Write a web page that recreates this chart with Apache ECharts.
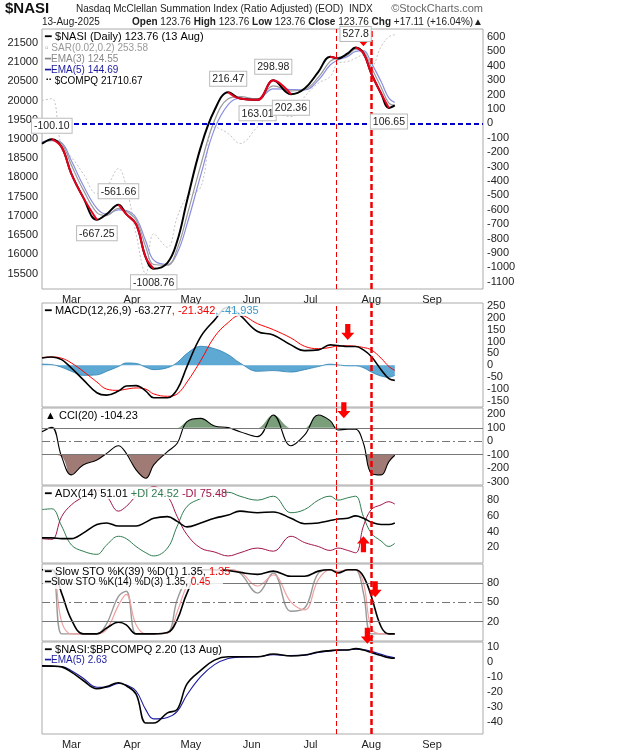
<!DOCTYPE html>
<html><head><meta charset="utf-8">
<script src="https://cdn.jsdelivr.net/npm/echarts@6/dist/echarts.min.js"></script>
<style>html,body{margin:0;padding:0;background:#fff}#c{width:620px;height:750px}</style>
</head><body><div id="c"></div>
<script>
const dates = ['2025-02-14','2025-02-19','2025-02-24','2025-03-01','2025-03-07','2025-03-14','2025-03-19','2025-03-25','2025-03-29','2025-04-03','2025-04-08','2025-04-12','2025-04-19','2025-04-24','2025-04-29','2025-05-06','2025-05-13','2025-05-20','2025-05-26','2025-06-04','2025-06-12','2025-06-21','2025-06-28','2025-07-05','2025-07-11','2025-07-15','2025-07-20','2025-07-24','2025-07-28','2025-08-01','2025-08-06','2025-08-10','2025-08-13'];
const nasi = [-142,-110,-165,-351,-514,-670,-630,-565,-630,-700,-933,-1009,-968,-817,-537,-165,91,216,172,163,299,202,242,358,463,451,486,527,486,346,207,107,124];
const ema3 = [-135,-118,-140,-290,-460,-620,-640,-590,-610,-670,-860,-980,-985,-870,-640,-290,20,170,185,168,260,225,235,320,430,455,475,515,500,390,250,140,125];
const ema5 = [-128,-120,-135,-260,-430,-590,-630,-600,-605,-655,-820,-950,-980,-900,-700,-360,-40,130,175,170,240,235,232,300,405,440,465,500,505,420,290,175,145];
const compq = [20000,20050,18800,18530,18100,17580,17750,18230,17750,16535,15490,16535,16185,16970,17490,17750,19316,19140,18883,19316,19665,19580,20100,20450,20620,20970,21013,21100,21190,20880,21400,21660,21710];
const nasiLabels = [[1,'-100.10','top'],[5,'-667.25','bottom'],[7,'-561.66','top'],[11,'-1008.76','bottom'],[17,'216.47','top'],[19,'163.01','bottom'],[20,'298.98','top'],[21,'202.36','bottom'],[27,'527.8','top'],[31,'106.65','bottom']];
const macd = [31,35,24,-11,-60,-115,-125,-108,-87,-85,-108,-136,-136,-101,-4,121,190,245,211,142,128,86,62,65,86,83,79,79,65,37,-18,-56,-63];
const signal = [33,35,30,10,-25,-70,-100,-105,-100,-95,-100,-120,-130,-120,-70,20,120,180,210,175,150,115,80,70,75,82,82,80,75,65,30,-5,-21];
const hist = [5,3,-8,-25,-42,-40,-25,-5,10,8,-8,-18,-10,12,50,80,70,45,10,-25,-22,-28,-18,-5,5,2,-2,-2,-10,-28,-45,-50,-42];
const cci = [71,103,-114,-250,-176,-139,-90,-33,-90,-213,-275,-176,-77,-15,146,170,113,101,71,34,195,-33,47,195,153,84,89,89,-15,-238,-250,-151,-104];
const adx = [32,32,31,31,38,49,51,47,47,47,52,57,59,53,46,51,57,61,66,64,65,57,50,51,54,56,57,60,57,52,49,49,51];
const pdi = [68,69,47,23,15,11,23,34,31,21,13,9,19,47,72,82,89,90,85,80,85,64,68,80,85,80,83,85,59,38,28,21,25];
const mdi = [31,30,59,74,84,93,85,66,72,85,93,97,85,59,36,19,14,9,13,19,15,34,26,21,16,19,16,13,47,68,74,78,75];
const sto39 = [100,100,64,23,1,1,10,19,15,1,1,1,3,23,64,100,100,99,96,93,98,90,90,98,100,95,100,100,90,59,12,1,1];
const sto14 = [100,100,1,1,1,1,17,59,67,1,1,1,3,54,85,100,100,100,95,64,95,36,41,95,100,97,100,100,64,1,1,1,1];
const sto14d = [100,100,20,1,1,1,8,45,62,15,1,1,2,35,75,100,100,100,97,75,92,50,38,85,100,98,100,100,80,10,1,1,1];
const ratio = [-2.8,-3,-3.5,-7,-12.5,-18,-16.6,-14,-16,-21.5,-40.7,-40.7,-34,-31.7,-14.8,-5.8,1,3.2,3.2,3.2,5,3.7,4.4,6.4,7.3,7.7,7.7,8.6,7.7,6,4,2.6,2.2];
const ratioEma = [-3,-3,-3.2,-6,-11,-17,-17,-14.5,-15.5,-19.5,-32,-38,-37,-33,-22,-10,-2,2,3,3.2,4.5,4,4.3,6,7,7.6,7.7,8.3,8,6.8,4.8,3.3,2.6];
const monthNames = ['Jan','Feb','Mar','Apr','May','Jun','Jul','Aug','Sep','Oct','Nov','Dec'];

const pair = a => a.map((v,i)=>[dates[i],v]);
const F = 'Arial, "Liberation Sans", sans-serif';
const grids = [[29,289],[303,407],[408,485],[486,563],[564,641],[642,735]];
const grid = grids.map(g=>({left:42,right:137,top:g[0],height:g[1]-g[0],show:true,borderColor:'#aaa',borderWidth:1,backgroundColor:'#fff'}));
const xAxis = grids.map((g,i)=>({type:'time',gridIndex:i,min:'2025-02-14',max:'2025-09-27',splitNumber:8,
  axisLine:{show:false},axisTick:{show:false},splitLine:{show:false},
  axisLabel:{show:(i===0||i===5),fontFamily:F,fontSize:11,color:'#222',margin:5,hideOverlap:false,
    formatter:v=>{const d=new Date(v);return d.getUTCDate()===1||d.getDate()===1?monthNames[d.getMonth()]:'';}}}));
function yax(i,min,max,interval,show,pos,extra){return Object.assign({type:'value',gridIndex:i,min,max,interval,position:pos||'right',scale:true,
  axisLine:{show:false},axisTick:{show:false},splitLine:{show:false},
  axisLabel:{fontFamily:F,fontSize:11,color:'#222',margin:4,showMinLabel:true,showMaxLabel:false,formatter:v=>show(v)?String(Math.round(v)):''}},extra||{});}
const yAxis = [
  yax(0,-1150,655,50,v=>Math.round(v)%100===0&&v>=-1100&&v<=600),
  yax(0,15100,21860,100,v=>Math.round(v)%500===0&&v>=15500,'left'),
  yax(1,-175,262,25,v=>Math.round(v)%50===0),
  yax(2,-325,247,25,v=>Math.round(v)%100===0),
  yax(3,0,98,10,v=>[20,40,60,80].includes(Math.round(v))),
  yax(4,-10,109,10,v=>[20,50,80].includes(Math.round(v))),
  yax(5,-48,13,2,v=>Math.round(v)%10===0)
];
function vlines(){return {silent:true,symbol:'none',label:{show:false},data:[
  {xAxis:'2025-07-14',lineStyle:{color:'#e00',type:[5,3],width:1}},
  {xAxis:'2025-08-01',lineStyle:{color:'#e00',type:[6,3],width:2.5}}]};}
function hl(vals){return vals.map(v=>({yAxis:v[0],lineStyle:{color:'#777',width:1,type:v[1]}}));}
const arrow = 'path://M3,0 L7,0 L7,7 L10,7 L5,13 L0,7 L3,7 Z';
function arrowPt(d,v,rot){return {coord:[d,v],symbol:arrow,symbolSize:[13,16],symbolRotate:rot||0,itemStyle:{color:'#f00'},label:{show:false}};}
const L = (name,xi,yi,data,color,w,extra)=>Object.assign({name,type:'line',xAxisIndex:xi,yAxisIndex:yi,data:pair(data),smooth:0.4,symbol:'none',lineStyle:{color,width:w},itemStyle:{color},z:3},extra||{});
const redSeg = nasi.map((v,i)=>((i<nasi.length-1&&nasi[i+1]<v)||(i>0&&nasi[i-1]>v))?v:null);

const series = [
  L('compq',0,1,compq,'#bbb',1,{lineStyle:{color:'#c4c4c4',width:1,type:[2,2]},z:1}),
  L('ema5',0,0,ema5,'#8a8ee0',1.2,{z:2}),
  L('ema3',0,0,ema3,'#999',1.2,{z:2}),
  L('nasi',0,0,nasi,'#000',2,{markLine:{silent:true,symbol:'none',label:{show:false},data:[{yAxis:0,lineStyle:{color:'#00c',type:[5,3],width:2}},
      {xAxis:'2025-07-14',lineStyle:{color:'#e00',type:[5,3],width:1}},{xAxis:'2025-08-01',lineStyle:{color:'#e00',type:[6,3],width:2.5}}]},
    markPoint:{data:nasiLabels.map(l=>({coord:[dates[l[0]],nasi[l[0]]],symbol:'circle',symbolSize:1,itemStyle:{color:'transparent'},
      label:{show:true,formatter:l[1],position:l[2],distance:6,fontFamily:F,fontSize:10.5,color:'#222',backgroundColor:'#fff',borderColor:'#bbb',borderWidth:1,padding:[2,2,1,2]}})).concat([arrowPt('2025-07-28',590)])}}),
  L('nasiRed',0,0,redSeg,'#e8001c',2,{connectNulls:false,z:4}),
  {type:'line',xAxisIndex:1,yAxisIndex:2,data:pair(hist),smooth:0.4,symbol:'none',lineStyle:{color:'#2a7fb0',width:0.8},areaStyle:{color:'#4c9fcf',opacity:0.9},z:1,
    markLine:vlines(),markPoint:{data:[arrowPt('2025-07-20',140)]}},
  L('signal',1,2,signal,'#f00',1),
  L('macd',1,2,macd,'#000',1.6),
  {type:'line',xAxisIndex:2,yAxisIndex:3,data:pair(cci.map(v=>Math.max(v,100))),smooth:0.4,symbol:'none',lineStyle:{width:0},areaStyle:{color:'#7a9e7a',origin:100,opacity:1},z:1},
  {type:'line',xAxisIndex:2,yAxisIndex:3,data:pair(cci.map(v=>Math.min(v,-100))),smooth:0.4,symbol:'none',lineStyle:{width:0},areaStyle:{color:'#a07a74',origin:-100,opacity:1},z:1},
  L('cci',2,3,cci,'#000',1.1,{markLine:{silent:true,symbol:'none',label:{show:false},data:hl([[100,'solid'],[0,[8,3,2,3]],[-100,'solid']]).concat(vlines().data)},markPoint:{data:[arrowPt('2025-07-18',230)]}}),
  L('pdi',3,4,pdi,'#2e7d4f',1,{}),
  L('mdi',3,4,mdi,'#a0144a',1,{}),
  L('adx',3,4,adx,'#000',1.6,{markLine:vlines(),markPoint:{data:[arrowPt('2025-07-28',24,180)]}}),
  L('sto14',4,5,sto14,'#999',1.4,{}),
  L('sto14d',4,5,sto14d,'#f3a0a0',1.2,{}),
  L('sto39',4,5,sto39,'#000',1.6,{markLine:{silent:true,symbol:'none',label:{show:false},data:hl([[80,'solid'],[50,[8,3,2,3]],[20,'solid']]).concat(vlines().data)},
    markPoint:{data:[arrowPt('2025-08-03',70),arrowPt('2025-07-30',-2)]}}),
  L('ratioEma',5,6,ratioEma,'#1a1aa0',1.1,{}),
  L('ratio',5,6,ratio,'#000',1.6,{markLine:vlines()})
];
const t=(x,y,text,style)=>({type:'text',left:x,top:y,z:100,style:Object.assign({text,font:'11px '+F,fill:'#222'},style||{})});
const bg=(x,y,w,h)=>({type:'rect',left:x,top:y,z:99,shape:{width:w,height:h},style:{fill:'rgba(255,255,255,0.85)'}});
const graphic=[
  t(5,1,'$NASI',{font:'bold 15px '+F,fill:'#111'}),
  t(76,4,'Nasdaq McClellan Summation Index (Ratio Adjusted) (EOD)  INDX',{font:'10px '+F}),
  {type:'text',right:137,top:3,z:100,style:{text:'©StockCharts.com',font:'11px '+F,fill:'#666'}},
  t(42,17,'13-Aug-2025',{font:'10px '+F}),
  {type:'text',right:137,top:17,z:100,style:{text:'{b|Open} 123.76 {b|High} 123.76 {b|Low} 123.76 {b|Close} 123.76 {b|Chg} +17.11 (+16.04%)▲',font:'10px '+F,fill:'#222',rich:{b:{fontWeight:'bold',fontSize:10,fontFamily:F}}}},
  bg(43,30,160,50),
  t(45,31,'━ $NASI (Daily) 123.76 (13 Aug)',{font:'11px '+F,fill:'#000'}),
  t(45,43,'▫ SAR(0.02,0.2) 253.58',{font:'10px '+F,fill:'#999'}),
  t(45,54,'━EMA(3) 124.55',{font:'10px '+F,fill:'#888'}),
  t(45,65,'━EMA(5) 144.69',{font:'10px '+F,fill:'#1a1aa0'}),
  t(45,76,'⠒ $COMPQ 21710.67',{font:'10px '+F,fill:'#000'}),
  bg(43,304,215,12),
  {type:'text',left:45,top:305,z:100,style:{text:'━ MACD(12,26,9) -63.277{r|, -21.342}{b|, -41.935}',font:'11px '+F,fill:'#000',rich:{r:{fill:'#e00',fontSize:11,fontFamily:F},b:{fill:'#3a9ac9',fontSize:11,fontFamily:F}}}},
  t(45,410,'▲ CCI(20) -104.23',{font:'11px '+F,fill:'#000'}),
  bg(43,487,180,12),
  {type:'text',left:45,top:488,z:100,style:{text:'━ ADX(14) 51.01 {g|+DI 24.52} {m|-DI 75.48}',font:'11px '+F,fill:'#000',rich:{g:{fill:'#2e7d4f',fontSize:11,fontFamily:F},m:{fill:'#a0144a',fontSize:11,fontFamily:F}}}},
  bg(43,565,180,24),
  {type:'text',left:45,top:566,z:100,style:{text:'━ Slow STO %K(39) %D(1) 1.35, {r|1.35}',font:'11px '+F,fill:'#000',rich:{r:{fill:'#e00',fontSize:11,fontFamily:F}}}},
  {type:'text',left:45,top:577,z:100,style:{text:'━Slow STO %K(14) %D(3) 1.35, {r|0.45}',font:'10px '+F,fill:'#000',rich:{r:{fill:'#e00',fontSize:10,fontFamily:F}}}},
  t(45,644,'━ $NASI:$BPCOMPQ 2.20 (13 Aug)',{font:'11px '+F,fill:'#000'}),
  t(45,655,'━EMA(5) 2.63',{font:'10px '+F,fill:'#1a1aa0'})
];
const chart = echarts.init(document.getElementById('c'));
chart.setOption({animation:false,backgroundColor:'#fff',grid,xAxis,yAxis,series,graphic});
</script></body></html>
